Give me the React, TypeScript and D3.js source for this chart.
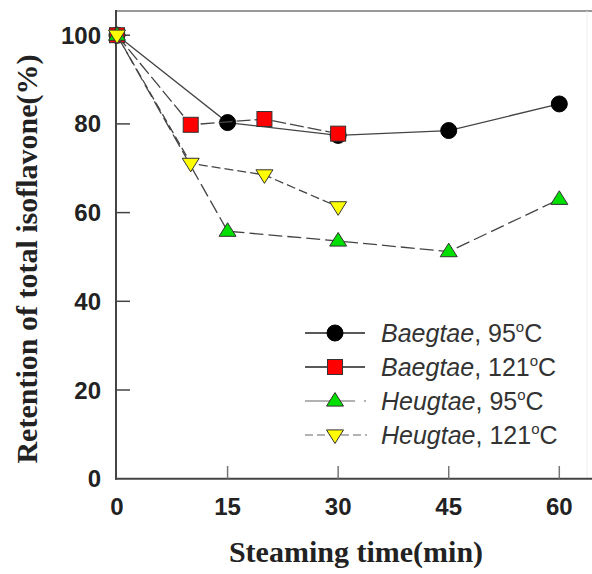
import React from 'react'
import * as d3 from 'd3'

// Steaming time (min) and retention (%)
const baeg95Time = [0, 15, 30, 45, 60]
const baeg95Value = [100, 80.3, 77.4, 78.5, 84.5]
const baeg121Time = [0, 10, 20, 30]
const baeg121Value = [100, 79.8, 81.1, 77.8]
const heug95Time = [0, 15, 30, 45, 60]
const heug95Value = [100, 55.8, 53.6, 51.2, 63]
const heug121Time = [0, 10, 20, 30]
const heug121Value = [100, 71.1, 68.5, 61.3]

const xTicks = [0, 15, 30, 45, 60]
const yTicks = [0, 20, 40, 60, 80, 100]

const seriesNames = ['Baegtae', 'Baegtae', 'Heugtae', 'Heugtae']
const seriesTemps = ['95', '121', '95', '121']

const W = 592
const H = 574

const series = [
  { time: baeg95Time, value: baeg95Value, shape: 'circle', fill: '#000', dash: 'none' },
  { time: baeg121Time, value: baeg121Value, shape: 'square', fill: '#ff0000', dash: '14,4' },
  { time: heug95Time, value: heug95Value, shape: 'up', fill: '#00e000', dash: '14,5' },
  { time: heug121Time, value: heug121Value, shape: 'down', fill: '#ffff00', dash: '9,4' },
]

function Marker({ shape, fill, x, y }: { shape: string; fill: string; x: number; y: number }) {
  if (shape === 'circle') return <circle cx={x} cy={y} r={8} fill={fill} stroke="#000" strokeWidth={1} />
  if (shape === 'square')
    return <rect x={x - 7.5} y={y - 7.5} width={15} height={15} fill={fill} stroke="#333" strokeWidth={1} />
  const s = 8.5
  const pts =
    shape === 'up'
      ? [[x, y - s], [x + s, y + s * 0.6], [x - s, y + s * 0.6]]
      : [[x, y + s], [x + s, y - s * 0.6], [x - s, y - s * 0.6]]
  return <polygon points={pts.map(p => p.join(',')).join(' ')} fill={fill} stroke="#333" strokeWidth={1} />
}

export default function App() {
  const x = d3.scaleLinear().domain([0, 60]).range([117, 559.3])
  const y = d3.scaleLinear().domain([0, 100]).range([478.7, 35.2])
  const line = d3
    .line<[number, number]>()
    .x(d => x(d[0]))
    .y(d => y(d[1]))

  const legendY = [333, 367, 401, 435]

  return (
    <svg width={W} height={H} style={{ position: 'absolute', left: 0, top: 0, background: '#fff' }}>
      {/* frame */}
      <line x1={116} x2={592} y1={11} y2={11} stroke="#999" strokeWidth={2} />
      <line x1={587} x2={587} y1={11} y2={479} stroke="#eee" strokeWidth={1} />
      <line x1={116} x2={116} y1={10} y2={479.7} stroke="#444" strokeWidth={2} />
      <line x1={115} x2={592} y1={478.7} y2={478.7} stroke="#444" strokeWidth={2} />

      {/* ticks */}
      {yTicks.map(t => (
        <g key={'y' + t}>
          {t > 0 && <line x1={116} x2={130} y1={y(t)} y2={y(t)} stroke="#444" strokeWidth={1.5} />}
          <text
            x={101}
            y={y(t) + 8.5}
            textAnchor="end"
            fontFamily="Liberation Sans, Arial, sans-serif"
            fontWeight="bold"
            fontSize={24}
            fill="#222"
          >
            {t}
          </text>
        </g>
      ))}
      {xTicks.map(t => (
        <g key={'x' + t}>
          {t > 0 && <line x1={x(t)} x2={x(t)} y1={478.7} y2={466} stroke="#777" strokeWidth={1.5} />}
          <text
            x={x(t)}
            y={515}
            textAnchor="middle"
            fontFamily="Liberation Sans, Arial, sans-serif"
            fontWeight="bold"
            fontSize={24}
            fill="#222"
          >
            {t}
          </text>
        </g>
      ))}

      {/* axis titles */}
      <text
        x={356}
        y={562}
        textAnchor="middle"
        fontFamily="Liberation Serif, Times New Roman, serif"
        fontWeight="bold"
        fontSize={30}
        fill="#222"
      >
        Steaming time(min)
      </text>
      <text
        transform="translate(37,259) rotate(-90)"
        textAnchor="middle"
        fontFamily="Liberation Serif, Times New Roman, serif"
        fontWeight="bold"
        fontSize={30}
        fill="#222"
      >
        Retention of total isoflavone(%)
      </text>

      {/* series */}
      {series.map((s, i) => {
        const pts = s.time.map((t, j) => [t, s.value[j]] as [number, number])
        return (
          <g key={'s' + i}>
            <path d={line(pts) || ''} fill="none" stroke="#444" strokeWidth={1.3} strokeDasharray={s.dash} />
            {pts.map((p, j) => (
              <Marker key={j} shape={s.shape} fill={s.fill} x={x(p[0])} y={y(p[1])} />
            ))}
          </g>
        )
      })}

      {/* legend */}
      {series.map((s, i) => (
        <g key={'l' + i}>
          {i < 2 && <line x1={305} x2={365} y1={legendY[i]} y2={legendY[i]} stroke="#222" strokeWidth={1.3} />}
          {i === 2 && (
            <g>
              <line x1={305} x2={355} y1={legendY[i]} y2={legendY[i]} stroke="#999" strokeWidth={1.5} />
              <line x1={364} x2={366} y1={legendY[i]} y2={legendY[i]} stroke="#999" strokeWidth={1.5} />
            </g>
          )}
          {i === 3 && (
            <line
              x1={305}
              x2={367}
              y1={legendY[i]}
              y2={legendY[i]}
              stroke="#999"
              strokeWidth={1.5}
              strokeDasharray="8,4"
            />
          )}
          <Marker shape={s.shape} fill={s.fill} x={335} y={legendY[i]} />
          <text
            x={381}
            y={legendY[i] + 9}
            fontFamily="Liberation Sans, Arial, sans-serif"
            fontSize={25}
            fill="#333"
          >
            <tspan fontStyle="italic">{seriesNames[i]}</tspan>
            <tspan>, {seriesTemps[i]}</tspan>
            <tspan fontSize={15} dy={-10}>
              o
            </tspan>
            <tspan dy={10}>C</tspan>
          </text>
        </g>
      ))}
    </svg>
  )
}
